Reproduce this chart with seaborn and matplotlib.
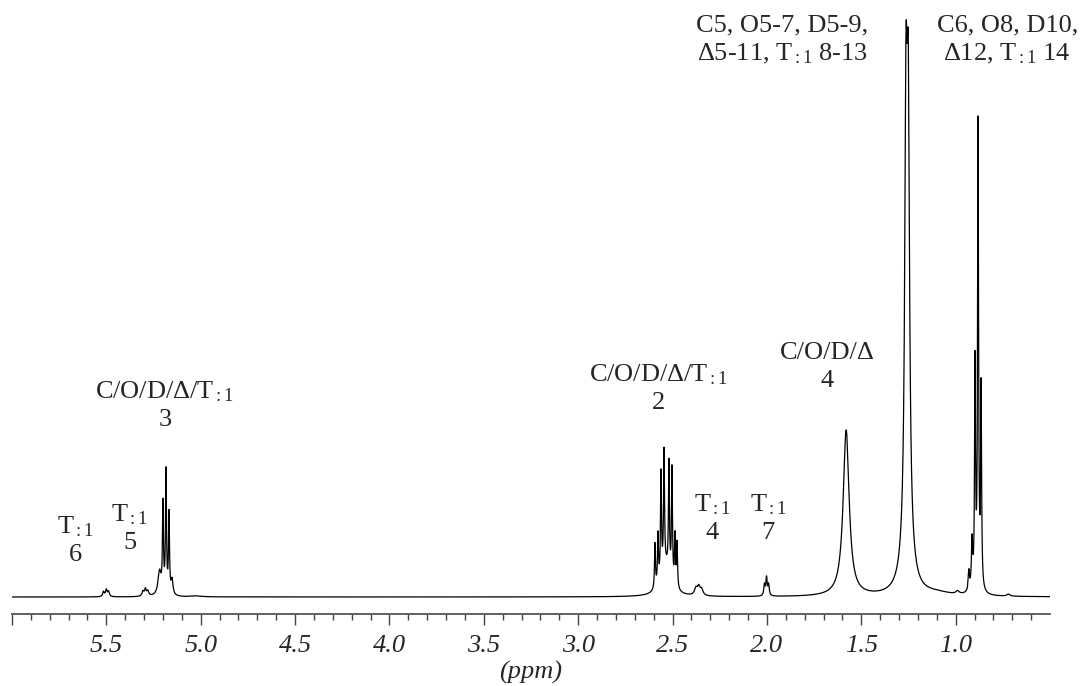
import numpy as np
import pandas as pd
import matplotlib
matplotlib.use("Agg")
import matplotlib.pyplot as plt
import seaborn as sns
from matplotlib.ticker import FixedLocator

# ---------------- data ----------------
# peak centres (ppm), heights (px above baseline), half widths (ppm)
peak_ppm = [5.515, 5.500, 5.488,
            5.306, 5.293, 5.280,
            5.218, 5.200, 5.184, 5.168, 5.152,
            2.593, 2.577, 2.561, 2.545, 2.519, 2.503, 2.487, 2.476, 2.535,
            2.376, 2.361, 2.346,
            2.013, 2.002, 1.991,
            1.580,
            1.263, 1.251, 1.257,
            1.100, 0.990,
            0.930, 0.913, 0.897, 0.881, 0.865,
            0.720, 5.020]
peak_height = [5, 7, 5,
               5, 7, 5,
               24, 88, 122, 80, 15,
               45, 50, 105, 118, 110, 112, 50, 45, 28,
               7, 8, 6,
               11, 18, 11,
               166,
               400, 388, 48,
               3, 3,
               20, 48, 225, 465, 200,
               2, 1]
peak_width = [0.005, 0.005, 0.005,
              0.006, 0.005, 0.006,
              0.010, 0.003, 0.003, 0.003, 0.006,
              0.003, 0.003, 0.003, 0.003, 0.003, 0.003, 0.003, 0.003, 0.030,
              0.009, 0.008, 0.009,
              0.004, 0.004, 0.004,
              0.019,
              0.008, 0.008, 0.030,
              0.090, 0.010,
              0.004, 0.004, 0.003, 0.003, 0.003,
              0.010, 0.030]

major_ticks = [6.0, 5.5, 5.0, 4.5, 4.0, 3.5, 3.0, 2.5, 2.0, 1.5, 1.0]
major_labels = ["", "5.5", "5.0", "4.5", "4.0", "3.5", "3.0", "2.5", "2.0", "1.5", "1.0"]
minor_ticks = [round(6.0 - 0.1 * i, 1) for i in range(55)]

labels = [
    "C5, O5-7, D5-9,\nΔ5-11, T$_{:1}$ 8-13",
    "C6, O8, D10,\nΔ12, T$_{:1}$ 14",
    "C/O/D/Δ\n4",
    "C/O/D/Δ/T$_{:1}$\n2",
    "C/O/D/Δ/T$_{:1}$\n3",
    "T$_{:1}$\n6",
    "T$_{:1}$\n5",
    "T$_{:1}$\n4",
    "T$_{:1}$\n7",
]
label_ppm = [1.92, 0.727, 1.681, 2.577, 5.19, 5.666, 5.375, 2.29, 1.994]
label_y = [557, 557, 230, 209, 192, 57, 69, 79, 79]

# ---------------- spectrum trace ----------------
ppm = np.linspace(0.5, 6.0, 14000)
intensity = np.zeros_like(ppm)
for x0, h, w in zip(peak_ppm, peak_height, peak_width):
    intensity += h * w ** 2 / ((ppm - x0) ** 2 + w ** 2)
spec = pd.DataFrame({"ppm": ppm, "intensity": intensity})

# ---------------- style ----------------
sns.set_style("white")
plt.rcParams['font.family'] = ['Liberation Serif', 'DejaVu Serif']
plt.rcParams['mathtext.fontset'] = 'custom'
plt.rcParams['mathtext.rm'] = 'Liberation Serif'
plt.rcParams['mathtext.it'] = 'Liberation Serif:italic'

fig = plt.figure(figsize=(10.82, 6.86), dpi=100)
ax = fig.add_axes([12 / 1082, 1 - 614 / 686, 1038 / 1082, 614 / 686])

sns.lineplot(data=spec, x="ppm", y="intensity", color="black", linewidth=0.9, ax=ax)

ax.set_xlim(6.0, 0.5)
ax.set_ylim(-17, 597)

for sp in ["left", "top", "right"]:
    ax.spines[sp].set_visible(False)
ax.spines["bottom"].set_color("#555555")
ax.spines["bottom"].set_linewidth(1.3)
ax.set_yticks([])
ax.set_ylabel("")

ax.xaxis.set_major_locator(FixedLocator(major_ticks))
ax.set_xticklabels(major_labels, fontstyle="italic", fontsize=19)
ax.xaxis.set_minor_locator(FixedLocator(minor_ticks))
ax.tick_params(axis="x", which="major", direction="out", length=8, width=1,
               color="#444444", pad=7, bottom=True)
ax.tick_params(axis="x", which="minor", direction="out", length=4, width=1,
               color="#444444", bottom=True)
ax.set_xlabel("(ppm)", fontstyle="italic", fontsize=19, labelpad=3)

for txt, xp, yp in zip(labels, label_ppm, label_y):
    ax.text(xp, yp, txt, ha="center", va="center", fontsize=19, linespacing=1.3)

fig.savefig("out.png", dpi=100, facecolor="white")
